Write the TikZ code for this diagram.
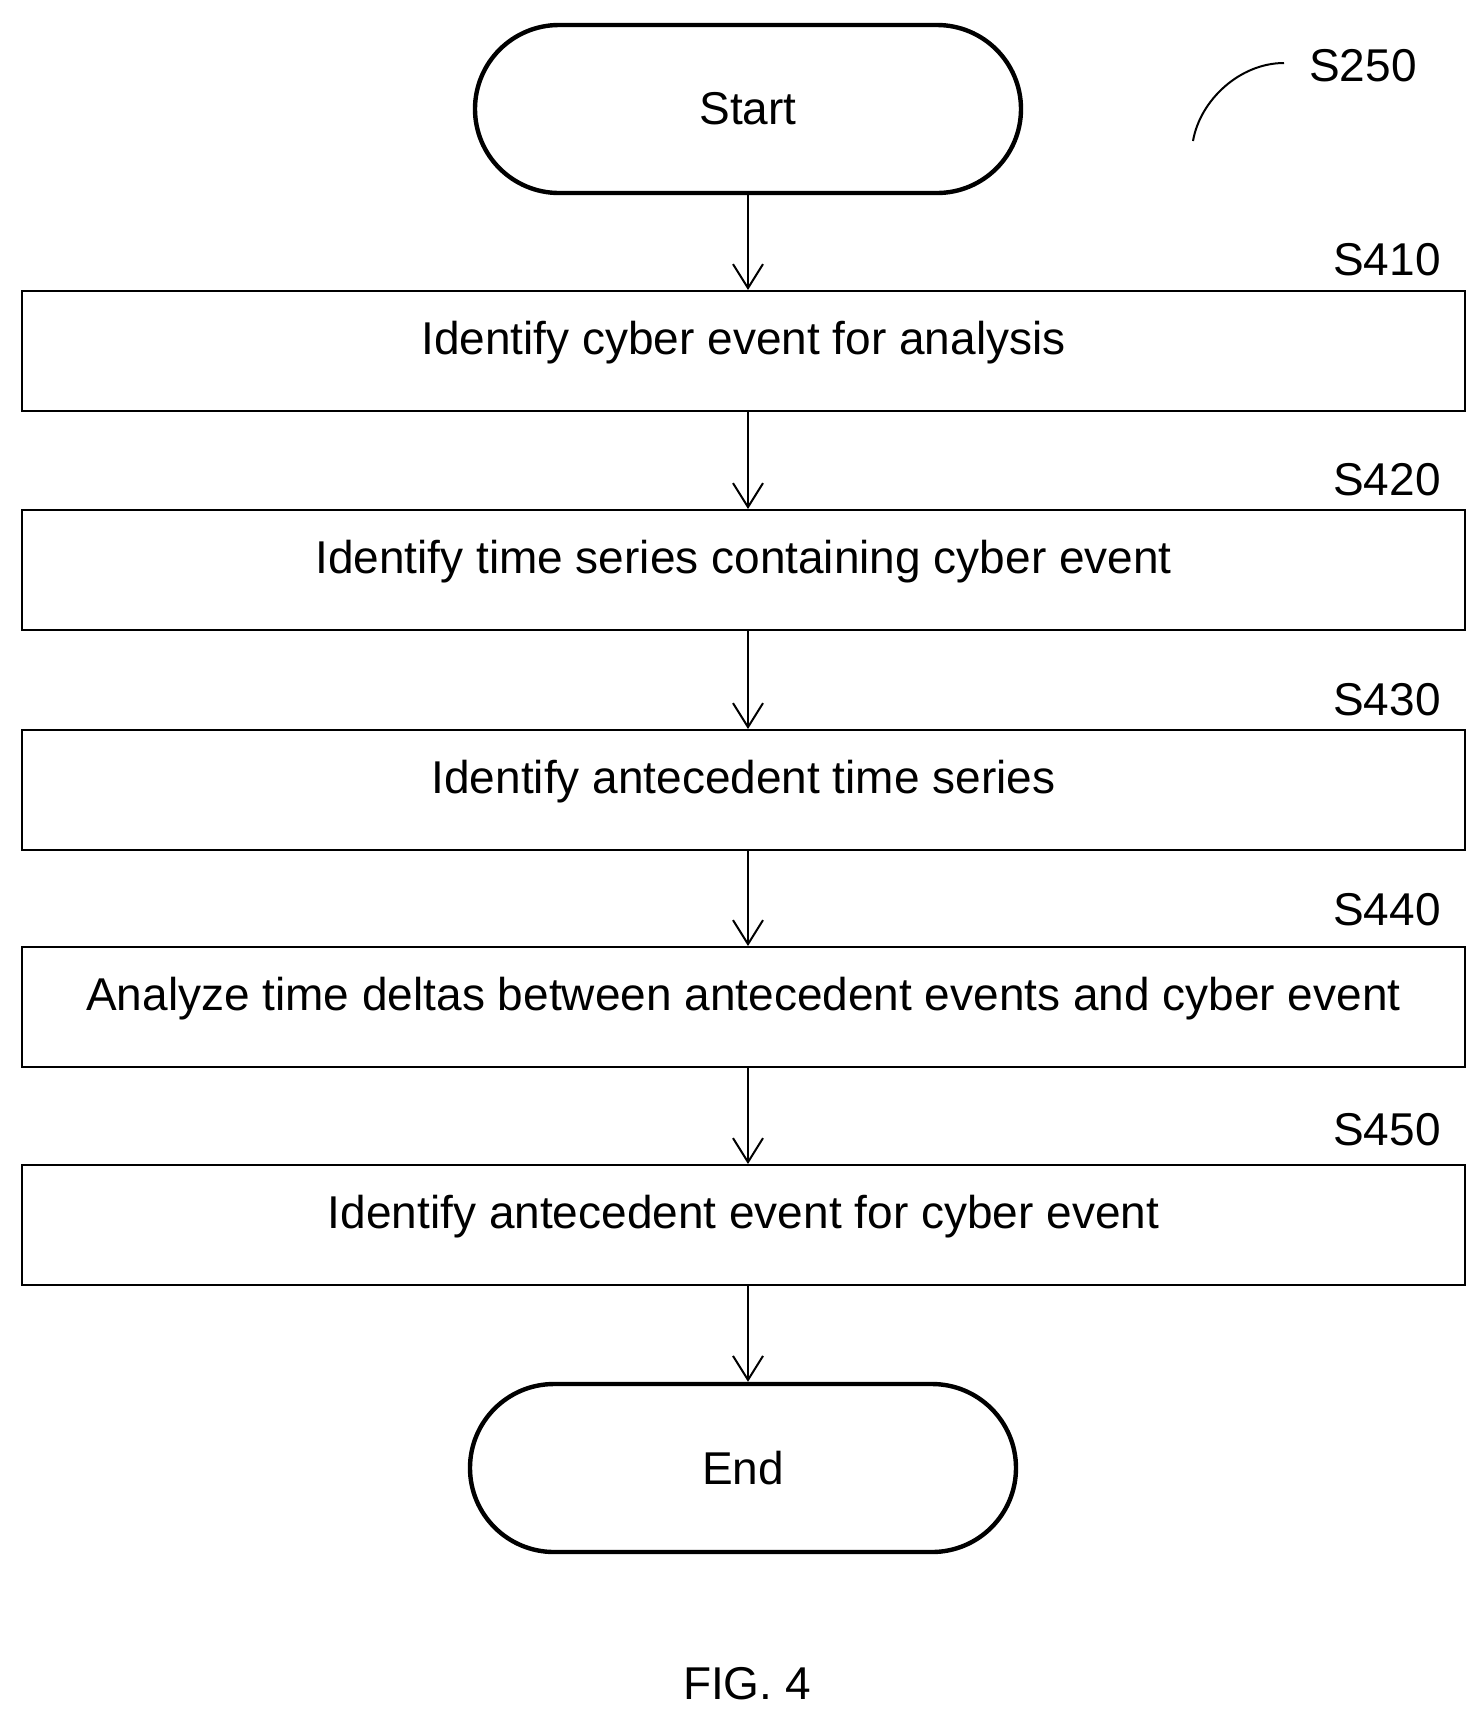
\documentclass[tikz,border=0pt]{standalone}
\usepackage{fontspec}
\setmainfont{Liberation Sans}
\usetikzlibrary{arrows.meta}
\begin{document}
\begin{tikzpicture}[x=0.5pt,y=-0.5pt,
  txt/.style={font=\fontsize{23}{27}\selectfont},
  box/.style={draw,line width=1pt,minimum width=721.5pt,minimum height=60pt,inner sep=0pt,txt},
  term/.style={draw,line width=2.2pt,rounded corners=42pt,minimum width=273pt,minimum height=84pt,inner sep=0pt,txt},
  arr/.style={-{Straight Barb[length=12pt,width=15pt]},line width=1pt},
  lab/.style={txt,anchor=center}]
\newcommand\up[1]{\raisebox{13pt}{#1}}
\useasboundingbox (0,0) rectangle (1484,1720);
\node[term] (start) at (748,109) {\raisebox{-6pt}{Start}};
\node[box] (b1) at (743.5,351) {\up{Identify cyber event for analysis}};
\node[box] (b2) at (743.5,570) {\up{Identify time series containing cyber event}};
\node[box] (b3) at (743.5,790) {\up{Identify antecedent time series}};
\node[box] (b4) at (743.5,1007) {\up{Analyze time deltas between antecedent events and cyber event}};
\node[box] (b5) at (743.5,1225) {\up{Identify antecedent event for cyber event}};
\node[term] (end) at (743,1468) {End};
\node[lab] (l1) at (1387,260) {S410};
\node[lab] (l2) at (1387,480) {S420};
\node[lab] (l3) at (1387,700) {S430};
\node[lab] (l4) at (1387,910) {S440};
\node[lab] (l5) at (1387,1130) {S450};
\node[lab] (s250) at (1363,66) {S250};
\node[txt] (fig) at (747,1684) {FIG. 4};
\coordinate (c1) at (1193,141);
\coordinate (c2) at (1284,63);
\draw[line width=1pt] (c1) .. controls (1200,100) and (1240,63) .. (c2);
\draw[arr] (start.south) -- (b1.north -| start.south);
\draw[arr] (b1.south -| start.south) -- (b2.north -| start.south);
\draw[arr] (b2.south -| start.south) -- (b3.north -| start.south);
\draw[arr] (b3.south -| start.south) -- (b4.north -| start.south);
\draw[arr] (b4.south -| start.south) -- (b5.north -| start.south);
\draw[arr] (b5.south -| start.south) -- (end.north -| start.south);
\end{tikzpicture}
\end{document}
